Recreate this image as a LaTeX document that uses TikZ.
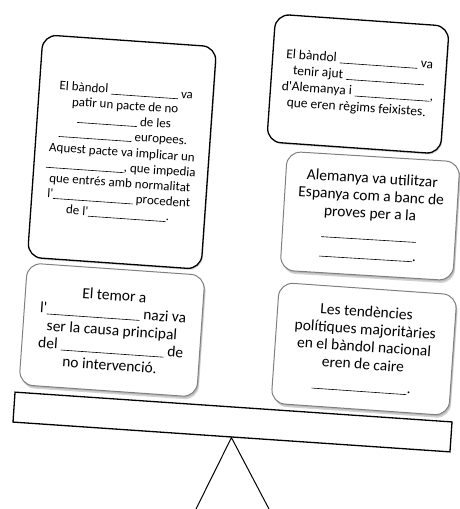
\documentclass[tikz,border=0pt]{standalone}
\usepackage{fontspec}
\setmainfont{Carlito}[Ligatures=TeXOff]
\usetikzlibrary{shadows}
\newcommand{\gap}[1]{\rule[-1pt]{#1pt}{0.6pt}}

\begin{document}
\begin{tikzpicture}[x=1pt,y=1pt]
\tikzstyle{every node}+=[inner sep=0pt]
\tikzstyle{card}=[draw=black, line width=1.3pt, fill=white, rounded corners=14pt, align=center, rotate=-4, drop shadow={shadow xshift=1pt, shadow yshift=-1.5pt, opacity=0.3}]
\tikzstyle{softcard}=[card, draw=black!50, line width=1pt, drop shadow={shadow xshift=1.5pt, shadow yshift=-3pt, opacity=0.35}]
\tikzstyle{small}=[font=\fontsize{13}{15.3}\selectfont]
\tikzstyle{big}=[font=\fontsize{15.5}{17.5}\selectfont]
\useasboundingbox [fill=white] (0,0) rectangle (460,-509);
\node [draw, line width=1.3pt, minimum width=438, minimum height=30, rotate=-3.9] (taulo) at (232.5,-422) {};
\coordinate (peuA) at (196,-509);
\coordinate (peuB) at (269,-509);
\draw [line width=1pt] (peuA) -- (taulo.south) -- (peuB);
\node [card, small, minimum width=174, minimum height=223] (pacte) at (122,-152) {El bàndol \gap{67} va\\ patir un pacte de no\\ \gap{60} de les\\ \gap{73} europees.\\[1pt] Aquest pacte va implicar un\\ \gap{78}, que impedia\\ que entrés amb normalitat\\ l'\gap{80} procedent\\ de l'\gap{78}.};
\node [card, small, font=\fontsize{13.5}{16}\selectfont, minimum width=174, minimum height=128] (ajut) at (358,-84) {El bàndol \gap{78} va\\ tenir ajut \gap{78}\\ d'Alemanya i \gap{75},\\ que eren règims feixistes.};
\node [softcard, big, minimum width=173, minimum height=119, rotate=0.5] (proves) at (370,-216) {Alemanya va utilitzar\\ Espanya com a banc de\\ proves per a la\\[3pt] \gap{95}\\[2pt] \gap{93}.};
\node [softcard, big, minimum width=178, minimum height=122] (temor) at (112,-330) {El temor a\\ l'\gap{93} nazi va\\ ser la causa principal\\ del \gap{103} de\\ no intervenció.};
\node [softcard, big, minimum width=178, minimum height=121] (tendencies) at (364,-349) {Les tendències\\ polítiques majoritàries\\ en el bàndol nacional\\ eren de caire\\[4pt] \gap{95}.};
\end{tikzpicture}
\end{document}
